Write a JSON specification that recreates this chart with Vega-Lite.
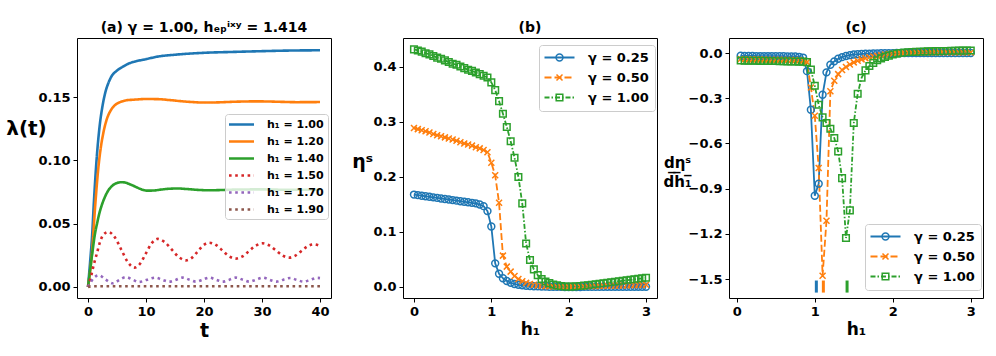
{
"$schema": "https://vega.github.io/schema/vega-lite/v6.json",
"background": "white",
"padding": {"left": 5, "top": 20, "right": 14, "bottom": 19},
"spacing": 72,
"bounds": "flush",
"config": {
  "font": "DejaVu Sans",
  "view": {"stroke": "#000", "strokeWidth": 1},
  "axis": {"grid": false, "domain": false, "ticks": true, "tickColor": "#000", "tickSize": 4, "tickWidth": 1, "labelFontSize": 13, "labelFontWeight": "bold", "labelColor": "#000", "labelPadding": 3, "titleFontWeight": "bold", "titleColor": "#000", "titlePadding": 3, "labelFlush": false},
  "legend": {"labelFontWeight": "bold", "labelColor": "#000", "fillColor": "rgba(255,255,255,0.8)", "strokeColor": "#cccccc", "cornerRadius": 3, "symbolStrokeWidth": 1.8},
  "title": {"fontSize": 14, "fontWeight": "bold", "color": "#000", "offset": 3}
},
"resolve": {"scale": {"color": "independent", "stroke": "independent", "strokeDash": "independent", "shape": "independent"}, "legend": {"color": "independent", "stroke": "independent", "strokeDash": "independent", "shape": "independent"}},
"datasets": {
"a": [
{"t":0,"v":0,"s":"1.00"},{"t":0.4,"v":0.022,"s":"1.00"},{"t":0.7,"v":0.04,"s":"1.00"},{"t":1,"v":0.066,"s":"1.00"},{"t":1.5,"v":0.102,"s":"1.00"},{"t":2,"v":0.127,"s":"1.00"},{"t":2.5,"v":0.143,"s":"1.00"},{"t":3,"v":0.154,"s":"1.00"},{"t":3.5,"v":0.161,"s":"1.00"},{"t":4,"v":0.166,"s":"1.00"},{"t":5,"v":0.171,"s":"1.00"},{"t":6,"v":0.174,"s":"1.00"},{"t":7,"v":0.1765,"s":"1.00"},{"t":8,"v":0.178,"s":"1.00"},{"t":10,"v":0.18,"s":"1.00"},{"t":12,"v":0.182,"s":"1.00"},{"t":15,"v":0.1835,"s":"1.00"},{"t":20,"v":0.185,"s":"1.00"},{"t":25,"v":0.1857,"s":"1.00"},{"t":30,"v":0.1863,"s":"1.00"},{"t":35,"v":0.1868,"s":"1.00"},{"t":40,"v":0.187,"s":"1.00"},
{"t":0,"v":0,"s":"1.20"},{"t":0.7,"v":0.028,"s":"1.20"},{"t":1.25,"v":0.065,"s":"1.20"},{"t":1.8,"v":0.095,"s":"1.20"},{"t":2.2,"v":0.11,"s":"1.20"},{"t":2.7,"v":0.123,"s":"1.20"},{"t":3.2,"v":0.132,"s":"1.20"},{"t":3.85,"v":0.139,"s":"1.20"},{"t":4.5,"v":0.143,"s":"1.20"},{"t":5.5,"v":0.146,"s":"1.20"},{"t":6.5,"v":0.1474,"s":"1.20"},{"t":8,"v":0.148,"s":"1.20"},{"t":10,"v":0.1485,"s":"1.20"},{"t":12,"v":0.1484,"s":"1.20"},{"t":14,"v":0.1477,"s":"1.20"},{"t":16,"v":0.1468,"s":"1.20"},{"t":18,"v":0.1461,"s":"1.20"},{"t":20,"v":0.1457,"s":"1.20"},{"t":22,"v":0.1458,"s":"1.20"},{"t":25,"v":0.1463,"s":"1.20"},{"t":28,"v":0.1466,"s":"1.20"},{"t":30,"v":0.1466,"s":"1.20"},{"t":33,"v":0.1463,"s":"1.20"},{"t":36,"v":0.146,"s":"1.20"},{"t":40,"v":0.1461,"s":"1.20"},
{"t":0,"v":0,"s":"1.40"},{"t":0.7,"v":0.0255,"s":"1.40"},{"t":1.2,"v":0.042,"s":"1.40"},{"t":1.6,"v":0.051,"s":"1.40"},{"t":2,"v":0.059,"s":"1.40"},{"t":2.4,"v":0.065,"s":"1.40"},{"t":3,"v":0.072,"s":"1.40"},{"t":3.6,"v":0.077,"s":"1.40"},{"t":4.2,"v":0.08,"s":"1.40"},{"t":5,"v":0.0822,"s":"1.40"},{"t":5.8,"v":0.0828,"s":"1.40"},{"t":6.5,"v":0.0824,"s":"1.40"},{"t":7.2,"v":0.0812,"s":"1.40"},{"t":8,"v":0.0796,"s":"1.40"},{"t":9,"v":0.0775,"s":"1.40"},{"t":10.2,"v":0.0761,"s":"1.40"},{"t":11.3,"v":0.0762,"s":"1.40"},{"t":12.5,"v":0.0769,"s":"1.40"},{"t":14,"v":0.0776,"s":"1.40"},{"t":15.5,"v":0.0778,"s":"1.40"},{"t":17,"v":0.0774,"s":"1.40"},{"t":19,"v":0.0767,"s":"1.40"},{"t":21,"v":0.0764,"s":"1.40"},{"t":23,"v":0.0766,"s":"1.40"},{"t":26,"v":0.077,"s":"1.40"},{"t":30,"v":0.0771,"s":"1.40"},{"t":34,"v":0.0768,"s":"1.40"},{"t":37,"v":0.0768,"s":"1.40"},{"t":40,"v":0.0769,"s":"1.40"},
{"t":0,"v":0,"s":"1.50"},{"t":0.5,"v":0.008,"s":"1.50"},{"t":1,"v":0.0177,"s":"1.50"},{"t":1.5,"v":0.026,"s":"1.50"},{"t":2.1,"v":0.036,"s":"1.50"},{"t":2.7,"v":0.0415,"s":"1.50"},{"t":3.5,"v":0.0435,"s":"1.50"},{"t":4.6,"v":0.0394,"s":"1.50"},{"t":5.75,"v":0.0294,"s":"1.50"},{"t":6.9,"v":0.0194,"s":"1.50"},{"t":8,"v":0.0153,"s":"1.50"},{"t":9,"v":0.0186,"s":"1.50"},{"t":10,"v":0.0267,"s":"1.50"},{"t":11,"v":0.0347,"s":"1.50"},{"t":12,"v":0.038,"s":"1.50"},{"t":13.2,"v":0.0355,"s":"1.50"},{"t":14.45,"v":0.0295,"s":"1.50"},{"t":15.7,"v":0.0235,"s":"1.50"},{"t":16.9,"v":0.021,"s":"1.50"},{"t":17.9,"v":0.023,"s":"1.50"},{"t":18.9,"v":0.028,"s":"1.50"},{"t":19.9,"v":0.033,"s":"1.50"},{"t":20.9,"v":0.035,"s":"1.50"},{"t":22.05,"v":0.0332,"s":"1.50"},{"t":23.2,"v":0.0287,"s":"1.50"},{"t":24.35,"v":0.0242,"s":"1.50"},{"t":25.5,"v":0.0224,"s":"1.50"},{"t":26.65,"v":0.0242,"s":"1.50"},{"t":27.8,"v":0.0285,"s":"1.50"},{"t":28.95,"v":0.0327,"s":"1.50"},{"t":30.1,"v":0.0345,"s":"1.50"},{"t":31.25,"v":0.0328,"s":"1.50"},{"t":32.4,"v":0.0289,"s":"1.50"},{"t":33.55,"v":0.0249,"s":"1.50"},{"t":34.7,"v":0.0232,"s":"1.50"},{"t":35.75,"v":0.0247,"s":"1.50"},{"t":36.8,"v":0.0285,"s":"1.50"},{"t":37.85,"v":0.0322,"s":"1.50"},{"t":38.9,"v":0.0337,"s":"1.50"},{"t":40,"v":0.0324,"s":"1.50"},
{"t":0,"v":0,"s":"1.70"},{"t":0.5,"v":0.004,"s":"1.70"},{"t":1,"v":0.0072,"s":"1.70"},{"t":1.9,"v":0.0092,"s":"1.70"},{"t":3,"v":0.006,"s":"1.70"},{"t":4.3,"v":0.0029,"s":"1.70"},{"t":5.4,"v":0.0055,"s":"1.70"},{"t":6.55,"v":0.0078,"s":"1.70"},{"t":7.7,"v":0.0058,"s":"1.70"},{"t":8.8,"v":0.004,"s":"1.70"},{"t":10.2,"v":0.0058,"s":"1.70"},{"t":11.6,"v":0.0074,"s":"1.70"},{"t":12.8,"v":0.0057,"s":"1.70"},{"t":14,"v":0.0042,"s":"1.70"},{"t":15.2,"v":0.0058,"s":"1.70"},{"t":16.3,"v":0.0074,"s":"1.70"},{"t":17.5,"v":0.0057,"s":"1.70"},{"t":18.6,"v":0.0042,"s":"1.70"},{"t":19.8,"v":0.0058,"s":"1.70"},{"t":20.9,"v":0.0074,"s":"1.70"},{"t":22.1,"v":0.0057,"s":"1.70"},{"t":23.2,"v":0.0042,"s":"1.70"},{"t":24.4,"v":0.0058,"s":"1.70"},{"t":25.5,"v":0.0074,"s":"1.70"},{"t":26.7,"v":0.0057,"s":"1.70"},{"t":27.8,"v":0.0042,"s":"1.70"},{"t":29,"v":0.0058,"s":"1.70"},{"t":30.2,"v":0.0074,"s":"1.70"},{"t":31.3,"v":0.0057,"s":"1.70"},{"t":32.5,"v":0.0042,"s":"1.70"},{"t":33.7,"v":0.0058,"s":"1.70"},{"t":34.9,"v":0.0071,"s":"1.70"},{"t":36,"v":0.0056,"s":"1.70"},{"t":37.2,"v":0.0042,"s":"1.70"},{"t":38.3,"v":0.0056,"s":"1.70"},{"t":39.5,"v":0.0072,"s":"1.70"},{"t":40,"v":0.007,"s":"1.70"},
{"t":0,"v":0,"s":"1.90"},{"t":0.5,"v":0.0005,"s":"1.90"},{"t":1,"v":0.0006,"s":"1.90"},{"t":10,"v":0.0006,"s":"1.90"},{"t":20,"v":0.0006,"s":"1.90"},{"t":30,"v":0.0006,"s":"1.90"},{"t":40,"v":0.0006,"s":"1.90"}
],
"b": [
{"h":0,"a":0.168,"b":0.289,"c":0.432},{"h":0.05,"a":0.167,"b":0.287,"c":0.43},{"h":0.1,"a":0.166,"b":0.285,"c":0.428},{"h":0.15,"a":0.165,"b":0.283,"c":0.425},{"h":0.2,"a":0.164,"b":0.281,"c":0.423},{"h":0.25,"a":0.163,"b":0.278,"c":0.42},{"h":0.3,"a":0.162,"b":0.276,"c":0.417},{"h":0.35,"a":0.161,"b":0.274,"c":0.415},{"h":0.4,"a":0.16,"b":0.272,"c":0.412},{"h":0.45,"a":0.159,"b":0.27,"c":0.409},{"h":0.5,"a":0.158,"b":0.268,"c":0.406},{"h":0.55,"a":0.157,"b":0.266,"c":0.404},{"h":0.6,"a":0.156,"b":0.263,"c":0.401},{"h":0.65,"a":0.155,"b":0.261,"c":0.398},{"h":0.7,"a":0.154,"b":0.259,"c":0.395},{"h":0.75,"a":0.153,"b":0.257,"c":0.393},{"h":0.8,"a":0.152,"b":0.254,"c":0.39},{"h":0.85,"a":0.15,"b":0.252,"c":0.387},{"h":0.9,"a":0.147,"b":0.249,"c":0.384},{"h":0.95,"a":0.138,"b":0.245,"c":0.381},{"h":1.0,"a":0.11,"b":0.226,"c":0.372},{"h":1.05,"a":0.043,"b":0.203,"c":0.358},{"h":1.1,"a":0.024,"b":0.153,"c":0.338},{"h":1.15,"a":0.016,"b":0.057,"c":0.315},{"h":1.2,"a":0.011,"b":0.037,"c":0.291},{"h":1.25,"a":0.0075,"b":0.028,"c":0.265},{"h":1.3,"a":0.0055,"b":0.02,"c":0.235},{"h":1.35,"a":0.004,"b":0.0145,"c":0.2},{"h":1.4,"a":0.003,"b":0.0105,"c":0.152},{"h":1.45,"a":0.0023,"b":0.0075,"c":0.079},{"h":1.5,"a":0.0018,"b":0.0055,"c":0.049},{"h":1.55,"a":0.0014,"b":0.004,"c":0.032},{"h":1.6,"a":0.0011,"b":0.003,"c":0.0215},{"h":1.65,"a":0.0009,"b":0.0022,"c":0.0145},{"h":1.7,"a":0.0007,"b":0.0016,"c":0.01},{"h":1.75,"a":0.0005,"b":0.0011,"c":0.007},{"h":1.8,"a":0.0004,"b":0.0007,"c":0.0045},{"h":1.85,"a":0.0003,"b":0.0004,"c":0.003},{"h":1.9,"a":0.0002,"b":0.0002,"c":0.0018},{"h":1.95,"a":0.0001,"b":0.0001,"c":0.001},{"h":2.0,"a":0,"b":0,"c":0.0007},{"h":2.05,"a":0.0001,"b":0.0002,"c":0.0007},{"h":2.1,"a":0.0001,"b":0.0004,"c":0.0012},{"h":2.15,"a":0.0001,"b":0.0006,"c":0.0018},{"h":2.2,"a":0.0002,"b":0.0008,"c":0.0025},{"h":2.25,"a":0.0002,"b":0.001,"c":0.0033},{"h":2.3,"a":0.0002,"b":0.0012,"c":0.0042},{"h":2.35,"a":0.0002,"b":0.0014,"c":0.005},{"h":2.4,"a":0.0002,"b":0.0016,"c":0.006},{"h":2.45,"a":0.0003,"b":0.0018,"c":0.0068},{"h":2.5,"a":0.0003,"b":0.002,"c":0.0077},{"h":2.55,"a":0.0003,"b":0.0022,"c":0.0086},{"h":2.6,"a":0.0003,"b":0.0024,"c":0.0095},{"h":2.65,"a":0.0003,"b":0.0026,"c":0.0104},{"h":2.7,"a":0.0004,"b":0.0028,"c":0.0113},{"h":2.75,"a":0.0004,"b":0.003,"c":0.0122},{"h":2.8,"a":0.0004,"b":0.0032,"c":0.0131},{"h":2.85,"a":0.0004,"b":0.0034,"c":0.014},{"h":2.9,"a":0.0005,"b":0.0036,"c":0.0149},{"h":2.95,"a":0.0005,"b":0.0038,"c":0.0158},{"h":3.0,"a":0.0005,"b":0.004,"c":0.0167}
],
"c": [
{"h":0.05,"a":-0.018,"b":-0.04,"c":-0.049},{"h":0.1,"a":-0.019,"b":-0.041,"c":-0.05},{"h":0.15,"a":-0.019,"b":-0.042,"c":-0.05},{"h":0.2,"a":-0.019,"b":-0.042,"c":-0.051},{"h":0.25,"a":-0.02,"b":-0.043,"c":-0.051},{"h":0.3,"a":-0.02,"b":-0.043,"c":-0.052},{"h":0.35,"a":-0.02,"b":-0.043,"c":-0.052},{"h":0.4,"a":-0.02,"b":-0.044,"c":-0.053},{"h":0.45,"a":-0.02,"b":-0.044,"c":-0.053},{"h":0.5,"a":-0.021,"b":-0.044,"c":-0.053},{"h":0.55,"a":-0.021,"b":-0.045,"c":-0.054},{"h":0.6,"a":-0.021,"b":-0.045,"c":-0.054},{"h":0.65,"a":-0.022,"b":-0.046,"c":-0.055},{"h":0.7,"a":-0.022,"b":-0.046,"c":-0.055},{"h":0.75,"a":-0.023,"b":-0.047,"c":-0.056},{"h":0.8,"a":-0.025,"b":-0.048,"c":-0.057},{"h":0.85,"a":-0.03,"b":-0.05,"c":-0.057},{"h":0.9,"a":-0.12,"b":-0.06,"c":-0.06},{"h":0.95,"a":-0.376,"b":-0.228,"c":-0.11},{"h":1.0,"a":-0.947,"b":-0.416,"c":-0.217},{"h":1.05,"a":-0.867,"b":-0.763,"c":-0.343},{"h":1.1,"a":-0.277,"b":-1.478,"c":-0.427},{"h":1.15,"a":-0.128,"b":-1.113,"c":-0.464},{"h":1.2,"a":-0.078,"b":-0.254,"c":-0.502},{"h":1.25,"a":-0.055,"b":-0.184,"c":-0.564},{"h":1.3,"a":-0.038,"b":-0.14,"c":-0.653},{"h":1.35,"a":-0.027,"b":-0.112,"c":-0.83},{"h":1.4,"a":-0.019,"b":-0.092,"c":-1.228},{"h":1.45,"a":-0.014,"b":-0.076,"c":-1.044},{"h":1.5,"a":-0.01,"b":-0.062,"c":-0.464},{"h":1.55,"a":-0.008,"b":-0.051,"c":-0.27},{"h":1.6,"a":-0.006,"b":-0.042,"c":-0.164},{"h":1.65,"a":-0.0045,"b":-0.034,"c":-0.115},{"h":1.7,"a":-0.0035,"b":-0.028,"c":-0.086},{"h":1.75,"a":-0.0027,"b":-0.023,"c":-0.065},{"h":1.8,"a":-0.002,"b":-0.018,"c":-0.048},{"h":1.85,"a":-0.0015,"b":-0.014,"c":-0.035},{"h":1.9,"a":-0.001,"b":-0.01,"c":-0.025},{"h":1.95,"a":-0.0006,"b":-0.007,"c":-0.017},{"h":2.0,"a":-0.0003,"b":-0.004,"c":-0.01},{"h":2.05,"a":0,"b":-0.002,"c":-0.004},{"h":2.1,"a":0.0002,"b":0,"c":0},{"h":2.15,"a":0.0002,"b":0.001,"c":0.003},{"h":2.2,"a":0.0002,"b":0.002,"c":0.005},{"h":2.25,"a":0.0002,"b":0.0025,"c":0.007},{"h":2.3,"a":0.0002,"b":0.003,"c":0.008},{"h":2.35,"a":0.0002,"b":0.003,"c":0.009},{"h":2.4,"a":0.0002,"b":0.0033,"c":0.01},{"h":2.45,"a":0.0002,"b":0.0035,"c":0.011},{"h":2.5,"a":0.0002,"b":0.0036,"c":0.012},{"h":2.55,"a":0.0002,"b":0.0037,"c":0.013},{"h":2.6,"a":0.0002,"b":0.0038,"c":0.013},{"h":2.65,"a":0.0002,"b":0.0038,"c":0.014},{"h":2.7,"a":0.0002,"b":0.0039,"c":0.014},{"h":2.75,"a":0.0002,"b":0.0039,"c":0.015},{"h":2.8,"a":0.0002,"b":0.004,"c":0.015},{"h":2.85,"a":0.0002,"b":0.004,"c":0.016},{"h":2.9,"a":0.0002,"b":0.004,"c":0.016},{"h":2.95,"a":0.0002,"b":0.004,"c":0.016},{"h":3.0,"a":0.0002,"b":0.004,"c":0.017}
],
"cm": [
{"h":1.02,"y":-1.51,"y2":-1.59,"k":"a"},{"h":1.11,"y":-1.51,"y2":-1.59,"k":"b"},{"h":1.414,"y":-1.51,"y2":-1.59,"k":"c"}
]
},
"hconcat": [
{
  "width": 254, "height": 260,
  "title": {"text": "(a) γ = 1.00, hₑₚⁱˣʸ = 1.414"},
  "data": {"name": "a"},
  "mark": {"type": "line", "strokeWidth": 2.6, "interpolate": "monotone"},
  "encoding": {
    "x": {"field": "t", "type": "quantitative", "scale": {"domain": [-1.9, 41.9], "nice": false, "zero": false}, "axis": {"values": [0, 10, 20, 30, 40], "format": "d", "title": "t", "titleFontSize": 19}},
    "y": {"field": "v", "type": "quantitative", "scale": {"domain": [-0.0087, 0.1967], "nice": false, "zero": false}, "axis": {"values": [0, 0.05, 0.1, 0.15], "format": ".2f", "title": "λ(t)", "titleAngle": 0, "titleAlign": "center", "titleBaseline": "middle", "titleX": -51, "titleY": 90, "titleFontSize": 20}},
    "color": {"field": "s", "type": "nominal", "scale": {"range": ["#1f77b4", "#ff7f0e", "#2ca02c", "#d62728", "#9467bd", "#8c564b"]},
      "legend": {"title": null, "orient": "none", "legendX": 148, "legendY": 76, "labelExpr": "'h₁ = ' + datum.value", "symbolType": "M-2.5,0H2.5", "symbolSize": 100, "symbolStrokeWidth": 2.5, "symbolOffset": 6, "labelFontSize": 11, "rowPadding": 5, "padding": 4, "labelOffset": 19}},
    "strokeDash": {"field": "s", "type": "nominal", "scale": {"range": [[1, 0], [1, 0], [1, 0], [2.6, 3.6], [2.6, 3.6], [2.6, 3.6]]},
      "legend": {"title": null, "orient": "none", "legendX": 148, "legendY": 76, "labelExpr": "'h₁ = ' + datum.value", "symbolType": "M-2.5,0H2.5", "symbolSize": 100, "symbolStrokeWidth": 2.5, "symbolOffset": 6, "labelFontSize": 11, "rowPadding": 5, "padding": 4, "labelOffset": 19}}
  }
},
{
  "width": 254, "height": 260,
  "title": {"text": "(b)"},
  "data": {"name": "b"},
  "encoding": {
    "x": {"field": "h", "type": "quantitative", "scale": {"domain": [-0.142, 3.142], "nice": false, "zero": false}, "axis": {"values": [0, 1, 2, 3], "format": "d", "title": "h₁", "titleFontSize": 17}},
    "y": {"field": "v", "type": "quantitative", "scale": {"domain": [-0.02, 0.4527], "nice": false, "zero": false}, "axis": {"values": [0, 0.1, 0.2, 0.3, 0.4], "format": ".1f", "title": "ηˢ", "titleAngle": 0, "titleAlign": "center", "titleBaseline": "middle", "titleX": -41, "titleY": 123, "titleFontSize": 19}}
  },
  "layer": [
    {"transform": [{"fold": ["a", "b", "c"], "as": ["k", "v"]}],
     "mark": {"type": "line", "strokeWidth": 1.8},
     "encoding": {
       "color": {"field": "k", "type": "nominal", "scale": {"domain": ["a", "b", "c"], "range": ["#1f77b4", "#ff7f0e", "#2ca02c"]},
         "legend": {"title": null, "orient": "none", "legendX": 136, "legendY": 7, "labelExpr": "datum.value === 'a' ? 'γ = 0.25' : datum.value === 'b' ? 'γ = 0.50' : 'γ = 1.00'", "symbolType": "M-3,0H3", "symbolSize": 100, "symbolStrokeWidth": 1.8, "symbolOffset": 8, "labelFontSize": 13, "rowPadding": 6, "padding": 6, "labelOffset": 22}},
       "strokeDash": {"field": "k", "type": "nominal", "scale": {"domain": ["a", "b", "c"], "range": [[1, 0], [7, 3], [5, 2, 1.5, 2]]},
         "legend": {"title": null, "orient": "none", "legendX": 136, "legendY": 7, "labelExpr": "datum.value === 'a' ? 'γ = 0.25' : datum.value === 'b' ? 'γ = 0.50' : 'γ = 1.00'", "symbolType": "M-3,0H3", "symbolSize": 100, "symbolStrokeWidth": 1.8, "symbolOffset": 8, "labelFontSize": 13, "rowPadding": 6, "padding": 6, "labelOffset": 22}}
     }},
    {"transform": [{"fold": ["a", "b", "c"], "as": ["m", "v"]}],
     "mark": {"type": "point", "filled": false, "strokeWidth": 1.5, "size": 100, "opacity": 1},
     "encoding": {
       "stroke": {"field": "m", "type": "nominal", "scale": {"range": ["#1f77b4", "#ff7f0e", "#2ca02c"]},
         "legend": {"title": null, "orient": "none", "legendX": 136, "legendY": 7, "labelExpr": "datum.value === 'a' ? 'γ = 0.25' : datum.value === 'b' ? 'γ = 0.50' : 'γ = 1.00'", "symbolSize": 100, "symbolStrokeWidth": 1.5, "symbolOffset": 8, "labelFontSize": 13, "rowPadding": 6, "padding": 6, "labelOffset": 22, "labelOpacity": 0, "fillColor": "transparent", "strokeColor": "transparent"}},
       "shape": {"field": "m", "type": "nominal", "scale": {"range": ["M-3,0M3,0M0.69,0A0.69,0.69,0,1,1,-0.69,0A0.69,0.69,0,1,1,0.69,0", "M-3,0M3,0M-0.6,-0.6L0.6,0.6M-0.6,0.6L0.6,-0.6", "M-3,0M3,0M-0.66,-0.66H0.66V0.66H-0.66Z"]},
         "legend": {"title": null, "orient": "none", "legendX": 136, "legendY": 7, "labelExpr": "datum.value === 'a' ? 'γ = 0.25' : datum.value === 'b' ? 'γ = 0.50' : 'γ = 1.00'", "symbolSize": 100, "symbolStrokeWidth": 1.5, "symbolOffset": 8, "labelFontSize": 13, "rowPadding": 6, "padding": 6, "labelOffset": 22, "labelOpacity": 0, "fillColor": "transparent", "strokeColor": "transparent"}}
     }}
  ]
},
{
  "width": 254, "height": 260,
  "title": {"text": "(c)"},
  "encoding": {
    "x": {"field": "h", "type": "quantitative", "scale": {"domain": [-0.1, 3.157], "nice": false, "zero": false}, "axis": {"values": [0, 1, 2, 3], "format": "d", "title": "h₁", "titleFontSize": 17}},
    "y": {"field": "v", "type": "quantitative", "scale": {"domain": [-1.626, 0.1], "nice": false, "zero": false}, "axis": {"values": [0, -0.3, -0.6, -0.9, -1.2, -1.5], "format": ".1f", "title": ["dηˢ", "d̅h̅₁̅"], "titleAngle": 0, "titleAlign": "center", "titleBaseline": "middle", "titleX": -52, "titleY": 124, "titleFontSize": 15, "titleLineHeight": 19}}
  },
  "layer": [
    {"data": {"name": "c"}, "transform": [{"fold": ["a", "b", "c"], "as": ["k", "v"]}],
     "mark": {"type": "line", "strokeWidth": 1.8},
     "encoding": {
       "color": {"field": "k", "type": "nominal", "scale": {"domain": ["a", "b", "c"], "range": ["#1f77b4", "#ff7f0e", "#2ca02c"]},
         "legend": {"title": null, "orient": "none", "legendX": 136, "legendY": 186, "labelExpr": "datum.value === 'a' ? 'γ = 0.25' : datum.value === 'b' ? 'γ = 0.50' : 'γ = 1.00'", "symbolType": "M-3,0H3", "symbolSize": 100, "symbolStrokeWidth": 1.8, "symbolOffset": 8, "labelFontSize": 13, "rowPadding": 6, "padding": 6, "labelOffset": 22}},
       "strokeDash": {"field": "k", "type": "nominal", "scale": {"domain": ["a", "b", "c"], "range": [[1, 0], [7, 3], [5, 2, 1.5, 2]]},
         "legend": {"title": null, "orient": "none", "legendX": 136, "legendY": 186, "labelExpr": "datum.value === 'a' ? 'γ = 0.25' : datum.value === 'b' ? 'γ = 0.50' : 'γ = 1.00'", "symbolType": "M-3,0H3", "symbolSize": 100, "symbolStrokeWidth": 1.8, "symbolOffset": 8, "labelFontSize": 13, "rowPadding": 6, "padding": 6, "labelOffset": 22}}
     }},
    {"data": {"name": "c"}, "transform": [{"fold": ["a", "b", "c"], "as": ["m", "v"]}],
     "mark": {"type": "point", "filled": false, "strokeWidth": 1.5, "size": 100, "opacity": 1},
     "encoding": {
       "stroke": {"field": "m", "type": "nominal", "scale": {"range": ["#1f77b4", "#ff7f0e", "#2ca02c"]},
         "legend": {"title": null, "orient": "none", "legendX": 136, "legendY": 186, "labelExpr": "datum.value === 'a' ? 'γ = 0.25' : datum.value === 'b' ? 'γ = 0.50' : 'γ = 1.00'", "symbolSize": 100, "symbolStrokeWidth": 1.5, "symbolOffset": 8, "labelFontSize": 13, "rowPadding": 6, "padding": 6, "labelOffset": 22, "labelOpacity": 0, "fillColor": "transparent", "strokeColor": "transparent"}},
       "shape": {"field": "m", "type": "nominal", "scale": {"range": ["M-3,0M3,0M0.69,0A0.69,0.69,0,1,1,-0.69,0A0.69,0.69,0,1,1,0.69,0", "M-3,0M3,0M-0.6,-0.6L0.6,0.6M-0.6,0.6L0.6,-0.6", "M-3,0M3,0M-0.66,-0.66H0.66V0.66H-0.66Z"]},
         "legend": {"title": null, "orient": "none", "legendX": 136, "legendY": 186, "labelExpr": "datum.value === 'a' ? 'γ = 0.25' : datum.value === 'b' ? 'γ = 0.50' : 'γ = 1.00'", "symbolSize": 100, "symbolStrokeWidth": 1.5, "symbolOffset": 8, "labelFontSize": 13, "rowPadding": 6, "padding": 6, "labelOffset": 22, "labelOpacity": 0, "fillColor": "transparent", "strokeColor": "transparent"}}
     }},
    {"data": {"name": "cm"},
     "mark": {"type": "rule", "strokeWidth": 3},
     "encoding": {
       "y": {"field": "y", "type": "quantitative"},
       "y2": {"field": "y2"},
       "color": {"field": "k", "type": "nominal"}
     }}
  ]
}
]
}
